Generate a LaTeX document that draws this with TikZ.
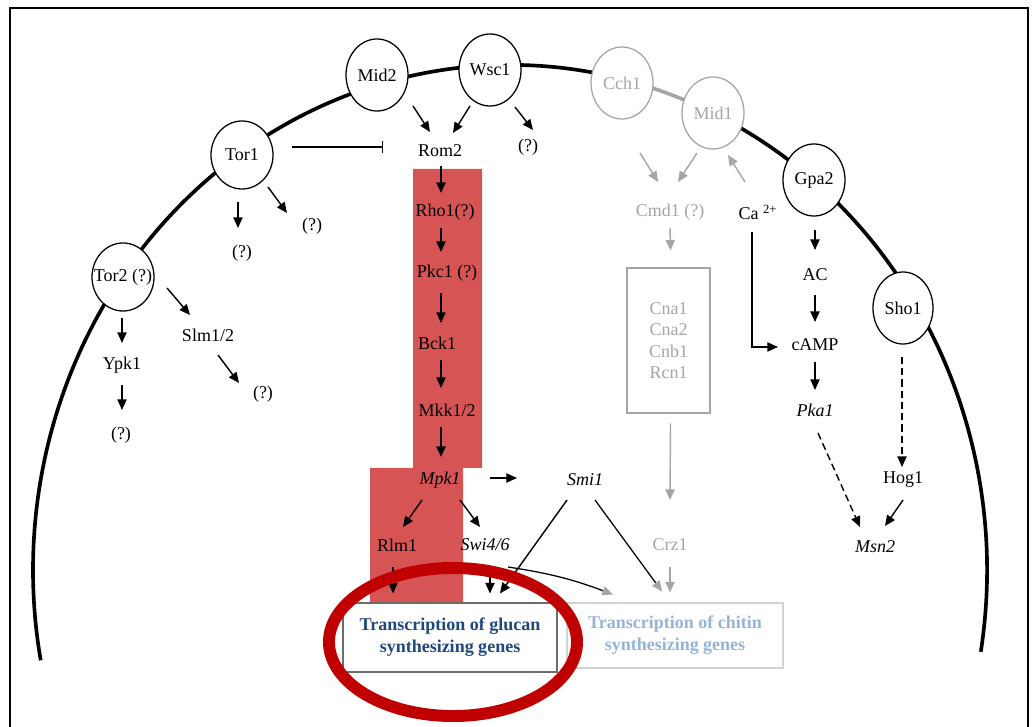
\documentclass[tikz,border=0pt]{standalone}
\usepackage{fontspec}
\setmainfont{Liberation Serif}
\usetikzlibrary{arrows.meta,shapes.geometric}
\definecolor{wallred}{RGB}{214,84,84}
\definecolor{ringred}{RGB}{192,0,0}
\definecolor{paleline}{RGB}{165,165,165}
\definecolor{glucanblue}{RGB}{31,73,125}
\definecolor{chitinblue}{RGB}{150,180,215}
\tikzset{
    receptor/.style = {draw, ellipse, fill=white, line width=0.9pt, inner sep=0pt, minimum width=1.55cm, minimum height=1.8cm},
    pale-receptor/.style = {receptor, draw=paleline, text=paleline},
    protein/.style = {inner sep=1pt},
    pale-protein/.style = {protein, text=paleline},
    act/.style = {-{Triangle[length=7.5pt,width=6.5pt]}, line width=1pt},
    pale-act/.style = {act, draw=paleline},
    fade-act/.style = {-{Triangle[length=7.5pt,width=6.5pt,color=paleline]}, line width=0.9pt},
    weak-act/.style = {act, dash pattern=on 5pt off 3pt},
    inhibit/.style = {-{Bar[width=8pt]}, line width=0.8pt},
    gene-box/.style = {draw, fill=white, rectangle, align=center, line width=0.8pt, font=\fontsize{12.8pt}{15.5pt}\selectfont\bfseries},
    highlight-ring/.style = {draw=ringred, line width=8.5pt},
    membrane/.style = {line width=2.6pt},
}

\begin{document}
\begin{tikzpicture}[x=0.025cm, y=-0.025cm, font=\fontsize{12.8pt}{15pt}\selectfont]
\useasboundingbox (0,0) rectangle (1034,727);
\draw[line width=1.5pt] (10,727) |- (1028,8) -- (1028,727);

% cell wall integrity column
\fill[wallred] (413,169) -- (482,169) -- (482,468) -- (463,468) -- (463,603)
    -- (370,603) -- (370,468) -- (413,468) -- cycle;

% membrane
\draw[membrane] (40.7,660.3) arc[start angle=190.3, end angle=76.4, x radius=11.925cm, y radius=12.625cm];
\draw[membrane, paleline] (622.2,79.2) arc[start angle=76.4, end angle=64.8, x radius=11.925cm, y radius=12.625cm];
\draw[membrane] (713.1,113.1) arc[start angle=64.8, end angle=-9.3, x radius=11.925cm, y radius=12.625cm];

% sensors
\node[receptor, minimum height=1.7cm] (tor1) at (242,155) {Tor1};
\node[receptor, minimum height=1.7cm, label=center:{Tor2 (?)}] (tor2) at (123,277) {};
\node[receptor] (mid2) at (377,75) {Mid2};
\node[receptor] (wsc1) at (490,70) {Wsc1};
\node[pale-receptor] (cch1) at (622,83) {Cch1};
\node[pale-receptor] (mid1) at (713,113) {Mid1};
\node[receptor] (gpa2) at (814,180) {Gpa2};
\node[receptor, minimum width=1.5cm] (sho1) at (903,308) {Sho1};

% cascade
\node[protein] (rom2) at (440,151) {Rom2};
\node[protein] (rho1) at (445,212) {Rho1(?)};
\node[protein] (pkc1) at (447,273) {Pkc1 (?)};
\node[protein] (bck1) at (437,343) {Bck1};
\node[protein] (mkk) at (447,410) {Mkk1/2};
\node[protein] (mpk1) at (440,480) {\textit{Mpk1}};
\node[protein] (smi1) at (585,480) {\textit{Smi1}};
\node[protein] (rlm1) at (397,545) {Rlm1};
\node[protein] (swi) at (485,545) {\textit{Swi4/6}};

\node[protein] (wscq) at (528,147) {(?)};
\node[protein] (torqa) at (242,253) {(?)};
\node[protein] (torqb) at (312,226) {(?)};
\node[protein] (ypk1) at (122,365) {Ypk1};
\node[protein] (ypkq) at (121,435) {(?)};
\node[protein] (slm) at (208,335) {Slm1/2};
\node[protein] (slmq) at (263,394) {(?)};

\node[pale-protein] (cmd1) at (670,212) {Cmd1 (?)};
\node[draw=paleline, text=paleline, align=center, line width=0.8pt, minimum width=2.075cm,
    minimum height=3.625cm, font=\fontsize{12.8pt}{15.3pt}\selectfont] (cna) at (668.5,340.5) {Cna1\\Cna2\\Cnb1\\Rcn1};
\node[pale-protein] (crz1) at (670,545) {Crz1};

\node[protein] (ca) at (758,212) {Ca \textsuperscript{2+}};
\node[protein] (ac) at (815,275) {AC};
\node[protein] (camp) at (815,345) {cAMP};
\node[protein] (pka1) at (815,410) {\textit{Pka1}};
\node[protein] (hog1) at (903,480) {Hog1};
\node[protein] (msn2) at (875,547) {\textit{Msn2}};

\node[gene-box, text=glucanblue, draw=gray!85!black, minimum width=5.35cm, minimum height=1.725cm] (glucan)
    at (450,637.5) {Transcription of glucan\\synthesizing genes};
\node[gene-box, text=chitinblue, draw=gray!35, minimum width=5.4cm, minimum height=1.625cm] (chitin)
    at (675,635.5) {Transcription of chitin\\synthesizing genes};

% links
\draw[act] ([shift={(36,31)}]mid2.center) -- ([shift={(-10,-19)}]rom2.center);
\draw[act] ([shift={(-20,36)}]wsc1.center) -- ([shift={(13,-18)}]rom2.center);
\draw[act] ([shift={(25,37)}]wsc1.center) -- ([shift={(5,-17)}]wscq.center);
\draw[inhibit] ([shift={(50,-8)}]tor1.center) -- ([shift={(-57,-4)}]rom2.center);
\draw[act] ([shift={(-4,47)}]tor1.center) -- ([shift={(-4,-25)}]torqa.center);
\draw[act] ([shift={(26,32)}]tor1.center) -- ([shift={(-25,-13)}]torqb.center);
\draw[act] ([shift={(-1,41)}]tor2.center) -- ([shift={(0,-22)}]ypk1.center);
\draw[act] ([shift={(0,20)}]ypk1.center) -- ([shift={(1,-25)}]ypkq.center);
\draw[act] ([shift={(44,11)}]tor2.center) -- ([shift={(-18,-20)}]slm.center);
\draw[act] ([shift={(10,20)}]slm.center) -- ([shift={(-24,-11)}]slmq.center);

\draw[act] ([shift={(1,15)}]rom2.center) -- ([shift={(-4,-19)}]rho1.center);
\draw[act] ([shift={(-4,16)}]rho1.center) -- ([shift={(-6,-21)}]pkc1.center);
\draw[act] ([shift={(-6,20)}]pkc1.center) -- ([shift={(4,-20)}]bck1.center);
\draw[act] ([shift={(4,17)}]bck1.center) -- ([shift={(-6,-22)}]mkk.center);
\draw[act] ([shift={(-6,17)}]mkk.center) -- ([shift={(1,-23)}]mpk1.center);
\draw[act] ([shift={(50,-2)}]mpk1.center) -- ([shift={(-68,-2)}]smi1.center);
\draw[act] ([shift={(-18,20)}]mpk1.center) -- ([shift={(6,-18)}]rlm1.center);
\draw[act] ([shift={(20,20)}]mpk1.center) -- ([shift={(-5,-18)}]swi.center);
\draw[act] ([shift={(-4,22)}]rlm1.center) -- ([shift={(-57,-44)}]glucan.center);
\draw[act] ([shift={(5,22)}]swi.center) -- ([shift={(40,-44)}]glucan.center);
\draw[act] ([shift={(-18,20)}]smi1.center) -- ([shift={(50,-44)}]glucan.center);
\draw[fade-act] ([shift={(10,20)}]smi1.center) -- ([shift={(-13,-44)}]chitin.center);
\draw[fade-act] ([shift={(23,22)}]swi.center) to[bend left=6] ([shift={(-62,-41)}]chitin.center);

\draw[pale-act] ([shift={(18,70)}]cch1.center) -- ([shift={(-12,-30)}]cmd1.center);
\draw[pale-act] ([shift={(-16,40)}]mid1.center) -- ([shift={(8,-30)}]cmd1.center);
\draw[pale-act] ([shift={(-13,-30)}]ca.center) -- ([shift={(15,42)}]mid1.center);
\draw[pale-act] ([shift={(0,16)}]cmd1.center) -- ([shift={(2,-90)}]cna.center);
\draw[pale-act] ([shift={(2,83)}]cna.center) -- ([shift={(0,-45)}]crz1.center);
\draw[pale-act] ([shift={(0,22)}]crz1.center) -- ([shift={(-5,-43)}]chitin.center);

\draw[act] ([shift={(-6,20)}]ca.center) |- ([shift={(-37,2)}]camp.center);
\draw[act] ([shift={(1,50)}]gpa2.center) -- ([shift={(0,-25)}]ac.center);
\draw[act] ([shift={(0,20)}]ac.center) -- ([shift={(0,-23)}]camp.center);
\draw[act] ([shift={(0,17)}]camp.center) -- ([shift={(0,-20)}]pka1.center);
\draw[weak-act] ([shift={(3,23)}]pka1.center) -- ([shift={(-15,-20)}]msn2.center);
\draw[weak-act] ([shift={(-1,49)}]sho1.center) -- ([shift={(-1,-13)}]hog1.center);
\draw[act] ([shift={(0,20)}]hog1.center) -- ([shift={(10,-21)}]msn2.center);

% highlight
\draw[highlight-ring] (453,642) ellipse [x radius=3.1cm, y radius=1.85cm];
\end{tikzpicture}
\end{document}
